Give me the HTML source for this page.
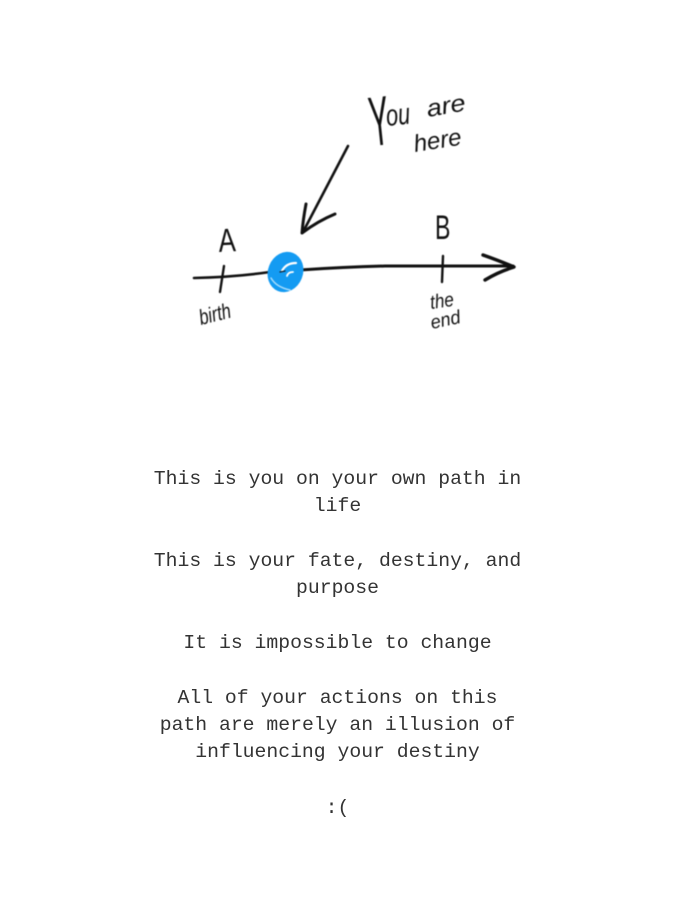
<!DOCTYPE html>
<html>
<head>
<meta charset="utf-8">
<style>
html,body{margin:0;padding:0;background:#fff}
body{width:675px;height:900px;position:relative;overflow:hidden}
svg{position:absolute;left:0;top:0;filter:blur(.5px)}
.t{position:absolute;left:0;width:675px;text-align:center;font:19.75px/27.3px "Liberation Mono",monospace;color:#333;white-space:nowrap;transform:translateY(-12.8px);filter:blur(.35px)}
</style>
</head>
<body>
<svg width="675" height="900" viewBox="0 0 675 900" fill="none" stroke-linecap="round" stroke-linejoin="round">
  <path d="M194 278 Q235 277 270 272" stroke="#111" stroke-width="2.600"/>
  <path d="M300 270 Q345 267 385 266 L513 266" stroke="#111" stroke-width="3"/>
  <path d="M483 255 Q500 261 514 267 Q498 272 485 280" stroke="#111" stroke-width="3.400"/>
  <path d="M224 266 L220 292" stroke="#111" stroke-width="2.400"/>
  <path d="M443 256 L442 282" stroke="#111" stroke-width="2.400"/>
  <path d="M348 146 Q325 190 303 232" stroke="#111" stroke-width="2.600"/>
  <path d="M306 204 Q303 220 302 233 Q318 221 335 214" stroke="#111" stroke-width="3"/>
  <ellipse cx="285.500" cy="272" rx="17.500" ry="20.500" transform="rotate(22 285.500 272)" fill="#149bf2"/>
  <path d="M282 271 Q286 263 296 263" stroke="#fff" stroke-width="2.200"/>
  <path d="M287 276 Q288 272 293 272" stroke="#fff" stroke-width="1.800"/>
  <path d="M271 278 Q276 287 290 290" stroke="#a5dbfb" stroke-width="1.500"/>
  <path d="M280 272 L285 271" stroke="#123" stroke-width="1.300"/>
  <g fill="#111" font-family="'Liberation Sans',sans-serif">
    <text transform="translate(372 146) rotate(-6) scale(.42 1)" font-size="70">Y</text>
    <text transform="translate(387 126) rotate(-6) scale(.72 1)" font-size="30" font-style="italic">ou</text>
    <text transform="translate(428 117) rotate(-10) scale(1.130 1)" font-size="24" font-style="italic">are</text>
    <text transform="translate(415 152) rotate(-9)" font-size="24" font-style="italic">here</text>
    <text transform="translate(219 252) rotate(-3) scale(.78 1)" font-size="33">A</text>
    <text transform="translate(435 239) scale(.68 1)" font-size="34">B</text>
    <text transform="translate(201 325) rotate(-14) scale(.92 1.200)" font-size="18" font-style="italic">birth</text>
    <text transform="translate(431 309) rotate(-8) scale(.95 1.100)" font-size="18" font-style="italic">the</text>
    <text transform="translate(432 329) rotate(-12) scale(.95 1)" font-size="19" font-style="italic">end</text>
  </g>
</svg>
<div class="t" style="top:479px">This is you on your own path in</div>
<div class="t" style="top:506px">life</div>
<div class="t" style="top:561px">This is your fate, destiny, and</div>
<div class="t" style="top:588px">purpose</div>
<div class="t" style="top:643px">It is impossible to change</div>
<div class="t" style="top:698px">All of your actions on this</div>
<div class="t" style="top:725px">path are merely an illusion of</div>
<div class="t" style="top:752px">influencing your destiny</div>
<div class="t" style="top:808px">:(</div>
</body>
</html>
